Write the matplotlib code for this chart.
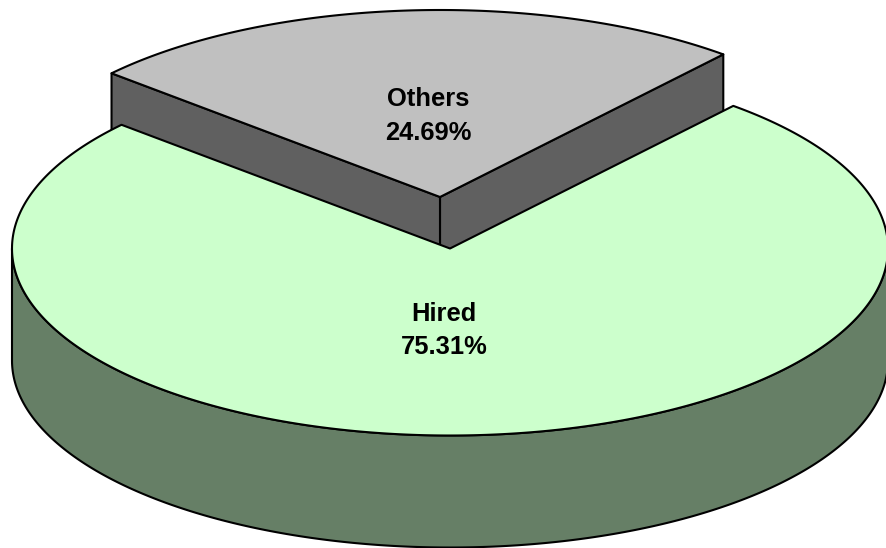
import numpy as np
import matplotlib
matplotlib.use("Agg")
import matplotlib.pyplot as plt
from matplotlib.patches import Polygon

labels = ["Hired", "Others"]
values = [75.31, 24.69]
top_colors = ["#CCFFCC", "#C0C0C0"]
side_colors = ["#667F66", "#606060"]

W, H = 886, 548
RX, RY, DEPTH = 438, 187, 112
START = 49.7  # angle where the Others slice begins

fig = plt.figure(figsize=(W / 100, H / 100), dpi=100)
ax = fig.add_axes([0, 0, 1, 1])
ax.set_xlim(0, W)
ax.set_ylim(H, 0)
ax.axis("off")

spans = [v / sum(values) * 360 for v in values]
hired_a0 = START + spans[1]
hired_a1 = START + 360
others_a0 = START
others_a1 = START + spans[1]


def rim(cx, cy, a0, a1, n=400):
    t = np.radians(np.linspace(a0, a1, n))
    return np.column_stack([cx + RX * np.cos(t), cy - RY * np.sin(t)])


def poly(pts, fc, z):
    ax.add_patch(Polygon(pts, closed=True, facecolor=fc, edgecolor="black",
                         linewidth=1.5, joinstyle="round", zorder=z))


# Others slice (pulled out, drawn behind)
ocx, ocy = 440, 197
orim = rim(ocx, ocy, others_a0, others_a1)
apex = np.array([ocx, ocy])
down = np.array([0, DEPTH])
for end in (orim[0], orim[-1]):
    poly([apex, end, end + down, apex + down], side_colors[1], 1)
poly(np.vstack([apex, orim]), top_colors[1], 2)

# Hired slice
hcx, hcy = 450, 248.5
arc = rim(hcx, hcy, 180, 360)
poly(np.vstack([arc, (arc + down)[::-1]]), side_colors[0], 3)
hrim = rim(hcx, hcy, hired_a0, hired_a1, 800)
poly(np.vstack([[hcx, hcy], hrim]), top_colors[0], 4)

font = dict(family="Liberation Sans", fontweight="bold", fontsize=18.4,
            ha="center", va="center", color="black", zorder=5, linespacing=1.5)
ax.text(428, 116, f"{labels[1]}\n{values[1]:.2f}%", **font)
ax.text(444, 330.5, f"{labels[0]}\n{values[0]:.2f}%", **font)

fig.savefig("out.png", dpi=100, facecolor="white")
